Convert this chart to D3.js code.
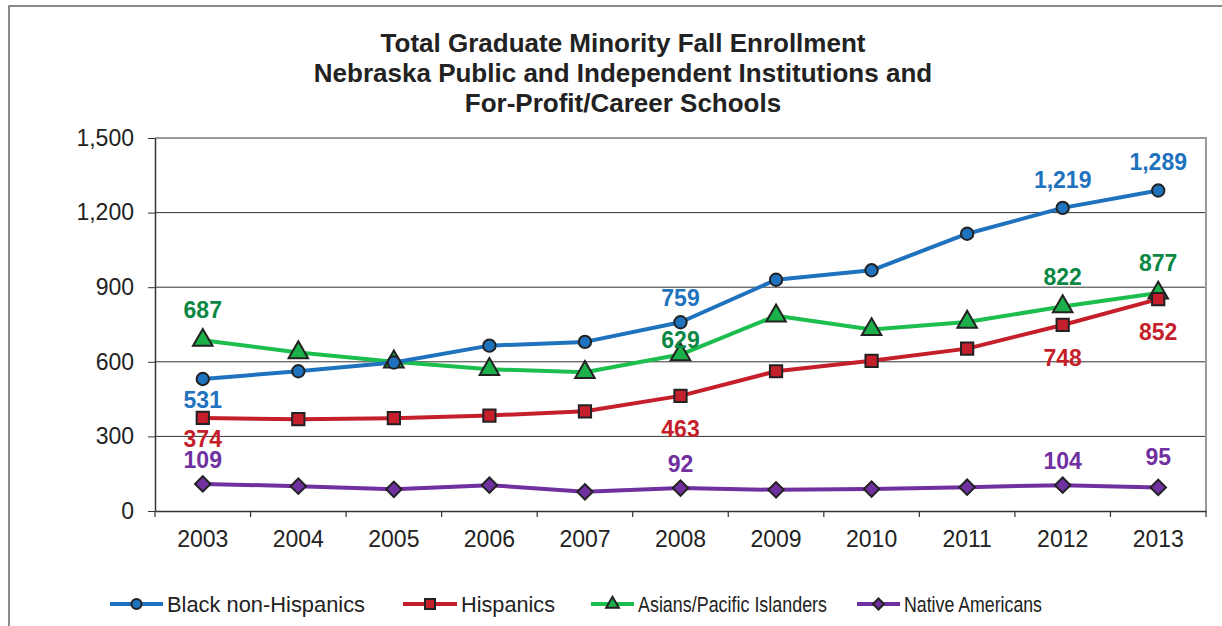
<!DOCTYPE html>
<html><head><meta charset="utf-8">
<script src="https://cdn.jsdelivr.net/npm/d3@7"></script>
<style>html,body{margin:0;padding:0;background:#fff;}svg{display:block;font-family:"Liberation Sans",Arial,sans-serif;}</style>
</head><body>
<svg id="c" width="1222" height="626"></svg>
<script>
const years = ["2003","2004","2005","2006","2007","2008","2009","2010","2011","2012","2013"];
const black = [531,562,597,665,680,759,930,968,1115,1219,1289];
const hispanic = [374,369,373,384,401,463,562,604,653,748,852];
const asian = [687,637,600,570,558,629,785,730,760,822,877];
const native = [109,100,87,104,77,92,85,88,96,104,95];
const yTicks = [0,300,600,900,1200,1500];
const titleLines = ["Total Graduate Minority Fall Enrollment","Nebraska Public and Independent Institutions and","For-Profit/Career Schools"];
const seriesNames = ["Black non-Hispanics","Hispanics","Asians/Pacific Islanders","Native Americans"];

// which points get a value label, and whether above or below
const labelsBlack = [[0,"below"],[5,"above"],[9,"above"],[10,"above"]];
const labelsHisp = [[0,"below"],[5,"below2"],[9,"below2"],[10,"below2"]];
const labelsAsian = [[0,"above"],[5,"close"],[9,"above"],[10,"above"]];
const labelsNative = [[0,"above"],[5,"above"],[9,"above"],[10,"above2"]];

const svg = d3.select("#c");
const L=155, R=1206, T=138, B=511;
const x = d3.scaleBand().domain(years).range([L,R]);
const y = d3.scaleLinear().domain([0,1500]).range([B,T]);
const cx = d => x(d)+x.bandwidth()/2;

// outer frame
svg.append("path").attr("d","M9,626V6H1222").attr("fill","none").attr("stroke","#666").attr("stroke-width",1.5);

// title
svg.append("g").selectAll("text").data(titleLines).join("text")
  .attr("x",623).attr("y",(d,i)=>52+i*30).attr("text-anchor","middle")
  .attr("font-size",26).attr("font-weight","bold").attr("fill","#222").text(d=>d);

// gridlines
svg.append("g").selectAll("line").data(yTicks.filter(t=>t>0 && t<1500)).join("line")
  .attr("x1",L).attr("x2",R).attr("y1",d=>y(d)).attr("y2",d=>y(d)).attr("stroke","#333").attr("stroke-width",1);
// top and right border
svg.append("path").attr("d",`M${L},${y(1500)}H${R}V${B}`).attr("fill","none").attr("stroke","#9a9a9a").attr("stroke-width",2);

// y axis
const ya = svg.append("g").attr("transform",`translate(${L},0)`)
  .call(d3.axisLeft(y).tickValues(yTicks).tickFormat(d3.format(",")).tickSizeInner(7).tickSizeOuter(0).tickPadding(14));
ya.select(".domain").attr("stroke","#333").attr("stroke-width",1.5);
ya.selectAll(".tick line").attr("stroke","#333");
ya.selectAll("text").attr("font-size",23).attr("fill","#222").attr("font-family","Liberation Sans, Arial, sans-serif");

// x axis
const xa = svg.append("g").attr("transform",`translate(0,${B})`)
  .call(d3.axisBottom(x).tickSize(0).tickPadding(20));
xa.select(".domain").attr("stroke","#333").attr("stroke-width",1.5);
xa.selectAll("text").attr("font-size",23).attr("fill","#222").attr("font-family","Liberation Sans, Arial, sans-serif");
const bounds = years.map(d=>x(d)).concat([R]);
xa.selectAll(".bt").data(bounds).join("line").attr("class","bt")
  .attr("x1",d=>d).attr("x2",d=>d).attr("y1",0).attr("y2",6).attr("stroke","#333").attr("stroke-width",1.2);

const series = [
  {name:seriesNames[0], vals:black, line:"#1f72bd", fill:"#1f72bd", label:"#1f72bd", shape:"circle", labels:labelsBlack},
  {name:seriesNames[1], vals:hispanic, line:"#c41f2b", fill:"#c41f2b", label:"#c41f2b", shape:"square", labels:labelsHisp},
  {name:seriesNames[2], vals:asian, line:"#1cbf4e", fill:"#1cb04a", label:"#0b8744", shape:"triangle", labels:labelsAsian},
  {name:seriesNames[3], vals:native, line:"#7030a0", fill:"#7030a0", label:"#7030a0", shape:"diamond", labels:labelsNative}
];
const symType = {circle:d3.symbolCircle, square:d3.symbolSquare, triangle:d3.symbolTriangle, diamond:d3.symbolSquare};
const symSize = {circle:120, square:150, triangle:165, diamond:120};
const rot = {circle:0,square:0,triangle:0,diamond:45};
const lineGen = d3.line().x((d,i)=>cx(years[i])).y(d=>y(d));

series.slice().reverse().forEach(s=>{
  svg.append("path").attr("d",lineGen(s.vals)).attr("fill","none").attr("stroke",s.line).attr("stroke-width",4).attr("stroke-linejoin","round");
});
series.slice().reverse().forEach(s=>{
  const g = svg.append("g");
  g.selectAll("path").data(s.vals).join("path")
    .attr("d",d3.symbol().type(symType[s.shape]).size(symSize[s.shape]))
    .attr("transform",(d,i)=>`translate(${cx(years[i])},${y(d)}) rotate(${rot[s.shape]})`)
    .attr("fill",s.fill).attr("stroke","#222").attr("stroke-width",2);
});
const dyMap = {above:-16, above2:-22, below:29, below2:41, close:-7};
series.forEach(s=>{
  s.labels.forEach(([i,pos])=>{
    let dy = dyMap[pos];
    if (s.shape==="triangle" && pos==="above") dy=-22;
    if (s.shape==="circle" && pos==="above" && i>=9) dy=-20;
    svg.append("text").attr("x",cx(years[i])).attr("y",y(s.vals[i])+dy)
      .attr("text-anchor","middle").attr("font-size",23).attr("font-weight","bold").attr("fill",s.label)
      .text(d3.format(",")(s.vals[i]));
  });
});

// legend
const legendPos = [[110,163],[403,457],[591,634],[857,900]];
const legendTextW = [198,94,189,138];
const legSize = {circle:80, square:100, triangle:70, diamond:60};
series.forEach((s,k)=>{
  const [a,b] = legendPos[k], ly=604;
  svg.append("line").attr("x1",a).attr("x2",b).attr("y1",ly).attr("y2",ly).attr("stroke",s.line).attr("stroke-width",4);
  svg.append("path").attr("d",d3.symbol().type(symType[s.shape]).size(legSize[s.shape]))
    .attr("transform",`translate(${(a+b)/2},${ly}) rotate(${rot[s.shape]})`)
    .attr("fill",s.fill).attr("stroke","#222").attr("stroke-width",2);
  svg.append("text").attr("x",b+4).attr("y",ly+7.5).attr("font-size",21.5).attr("fill","#222")
    .attr("textLength",legendTextW[k]).attr("lengthAdjust","spacingAndGlyphs").text(s.name);
});
</script>
</body></html>
